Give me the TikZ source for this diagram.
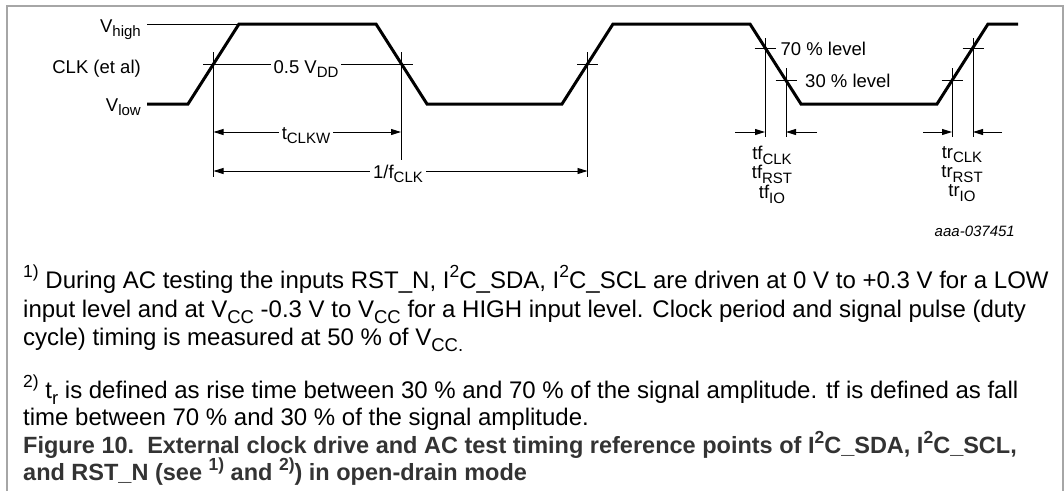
\documentclass[tikz,border=0pt]{standalone}
\usepackage{fontspec}
\setmainfont{Liberation Sans}
\usetikzlibrary{arrows.meta}
\newcommand{\lsub}[1]{\raisebox{-0.26em}{\fontsize{15}{15}\selectfont #1}}
\newcommand{\nsub}[1]{\raisebox{-0.26em}{\fontsize{18.5}{18.5}\selectfont #1}}
\newcommand{\nsup}[1]{\raisebox{0.42em}{\fontsize{17.5}{17.5}\selectfont #1}}
\definecolor{framegray}{HTML}{A6A6A6}
\definecolor{capgray}{HTML}{333333}
\begin{document}
\begin{tikzpicture}[x=1pt,y=-1pt,
  wave/.style={line width=3pt},
  thinln/.style={line width=0.9pt},
  dimarrow/.style={thinln,-{Triangle[length=10pt,width=6pt]}},
  dimboth/.style={thinln,{Triangle[length=10pt,width=6pt]}-{Triangle[length=10pt,width=6pt]}},
  lbl/.style={font=\fontsize{18.5}{19}\selectfont, inner sep=0pt},
  stack/.style={font=\fontsize{18.5}{19.3}\selectfont, inner sep=0pt, align=center, anchor=north},
  cutlbl/.style={lbl, fill=white, inner xsep=3pt, inner ysep=1pt},
  noteln/.style={font=\fontsize{24}{28}\selectfont, inner sep=0pt, anchor=base west},
  capln/.style={font=\fontsize{23.5}{28}\selectfont\bfseries, text=capgray, inner sep=0pt, anchor=base west}]
\useasboundingbox (0,0) rectangle (1064,491);
% frame
\draw[framegray, line width=1.3pt] (7,491) -- (7,6) -- (1063,6) -- (1063,491);
% waveform
\coordinate (w0) at (147,104);
\coordinate (w1) at (188,104);
\coordinate (w2) at (239,24);
\coordinate (w3) at (376,24);
\coordinate (w4) at (427,104);
\coordinate (w5) at (562,104);
\coordinate (w6) at (613,24);
\coordinate (w7) at (750,24);
\coordinate (w8) at (801,104);
\coordinate (w9) at (937,104);
\coordinate (w10) at (988,24);
\coordinate (w11) at (1018,24);
\draw[wave] (w0) -- (w1) -- (w2) -- (w3) -- (w4) -- (w5) -- (w6) -- (w7) -- (w8) -- (w9) -- (w10) -- (w11);
% V_high reference line
\coordinate (vh0) at (147,24);
\draw[thinln] (vh0) -- (w2);
% labels left
\node[lbl, anchor=base east] (vhigh) at (141,32) {V\lsub{high}};
\node[lbl, anchor=base east] (clk) at (141,73) {CLK (et al)};
\node[lbl, anchor=base east] (vlow) at (141,111) {V\lsub{low}};
% crossing points
\coordinate (c1) at (213.5,64);
\coordinate (c2) at (401,64);
\coordinate (c3) at (587.5,64);
% verticals
\coordinate (c1t) at (213.5,52); \coordinate (c1b) at (213.5,177);
\coordinate (c2t) at (401,52);   \coordinate (c2b) at (401,160);
\coordinate (c3t) at (587.5,52); \coordinate (c3b) at (587.5,177);
\draw[thinln] (c1t) -- (c1b);
\draw[thinln] (c2t) -- (c2b);
\draw[thinln] (c3t) -- (c3b);
% mid level line
\coordinate (m0) at (203,64); \coordinate (m1) at (413,64);
\draw[thinln] (m0) -- (m1);
\node[cutlbl, anchor=base] (vdd) at (306,73) {0.5 V\lsub{DD}};
\coordinate (m2) at (577,64); \coordinate (m3) at (598,64);
\draw[thinln] (m2) -- (m3);
% tCLKW and 1/fCLK
\coordinate (a1) at (213.5,132); \coordinate (a2) at (401,132);
\draw[dimboth] (a1) -- (a2);
\node[cutlbl, anchor=base] (tclkw) at (306,139) {t\lsub{CLKW}};
\coordinate (b1) at (213.5,171); \coordinate (b2) at (587.5,171);
\draw[dimboth] (b1) -- (b2);
\node[cutlbl, anchor=base] (fclk) at (398,178) {1/f\lsub{CLK}};
% fall 70/30
\draw[thinln] (765,38) -- (765,137);
\draw[thinln] (786,68) -- (786,137);
\draw[thinln] (754.5,48) -- (775.5,48);
\draw[thinln] (775.5,80) -- (796.5,80);
\node[lbl, anchor=base west] (l70) at (780.5,55) {70 \% level};
\node[lbl, anchor=base west] (l30) at (805,87) {30 \% level};
\coordinate (fa0) at (735,132); \coordinate (fa1) at (765,132);
\coordinate (fb0) at (817,132); \coordinate (fb1) at (786,132);
\draw[dimarrow] (fa0) -- (fa1);
\draw[dimarrow] (fb0) -- (fb1);
\node[stack] (tf) at (772,146) {tf\lsub{CLK}\\tf\lsub{RST}\\tf\lsub{IO}};
% rise 30/70
\draw[thinln] (952,68) -- (952,137);
\draw[thinln] (973,38) -- (973,137);
\draw[thinln] (941.5,80) -- (962.5,80);
\draw[thinln] (962.5,48) -- (983.5,48);
\coordinate (ra0) at (923,132); \coordinate (ra1) at (952,132);
\coordinate (rb0) at (1002,132); \coordinate (rb1) at (973,132);
\draw[dimarrow] (ra0) -- (ra1);
\draw[dimarrow] (rb0) -- (rb1);
\node[stack] (tr) at (962,146) {tr\lsub{CLK}\\tr\lsub{RST}\\tr\lsub{IO}};
% id
\node[font=\fontsize{15}{15}\selectfont\itshape, inner sep=0pt, anchor=base east] (id) at (1015,236) {aaa-037451};
% notes
\node[noteln] (n1) at (23,288) {\nsup{1)} During AC testing the inputs RST\_N, I\nsup{2}C\_SDA, I\nsup{2}C\_SCL are driven at 0 V to +0.3 V for a LOW};
\node[noteln] (n2) at (23,317) {input level and at V\nsub{CC} -0.3 V to V\nsub{CC} for a HIGH input level. Clock period and signal pulse (duty};
\node[noteln] (n3) at (23,345) {cycle) timing is measured at 50 \% of V\nsub{CC.}};
\node[noteln] (n4) at (23,398) {\nsup{2)} t\nsub{r} is defined as rise time between 30 \% and 70 \% of the signal amplitude. tf is defined as fall};
\node[noteln] (n5) at (23,425) {time between 70 \% and 30 \% of the signal amplitude.};
\node[capln] (cap1) at (23,453) {Figure 10.\ \ External clock drive and AC test timing reference points of I\nsup{2}C\_SDA, I\nsup{2}C\_SCL,};
\node[capln] (cap2) at (23,480) {and RST\_N (see \nsup{1)} and \nsup{2)}) in open-drain mode};
\end{tikzpicture}
\end{document}
